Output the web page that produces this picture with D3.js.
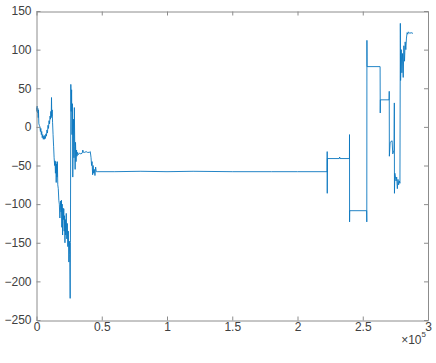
<!DOCTYPE html>
<html>
<head>
<meta charset="utf-8">
<script src="https://cdn.jsdelivr.net/npm/d3@7"></script>
<style>
  html, body { margin: 0; padding: 0; background: #fff; }
  svg { display: block; }
  text { font-family: "Liberation Sans", Arial, sans-serif; fill: #404040; }
</style>
</head>
<body>
<svg id="chart" width="436" height="363"></svg>
<script>
// Sample index of each vertex of the trace
const sampleIdx = [
  0, 300, 500, 800, 1000, 1300, 1500, 1800, 2200, 2600, 3000, 3300, 3700, 4000, 4400, 4800,
  5200, 5600, 6000, 6400, 6800, 7200, 7600, 8000, 8400, 8800, 9200, 9600, 10000, 10400, 10700,
  11000, 11300, 11500, 11700, 12000, 12300, 12700, 13100, 13500, 13900, 14200, 14500, 14800,
  15100, 15400, 15700, 16000, 16300, 16700, 17100, 17500, 17900, 18200, 18500, 18800, 19100,
  19400, 19700, 20000, 20300, 20600, 20900, 21200, 21500, 21800, 22100, 22400, 22800, 23200,
  23600, 24000, 24400, 24800, 25200, 25500, 25800, 26000, 26300, 26600, 26900, 27200, 27500,
  27800, 28100, 28400, 28700, 29000, 29300, 29600, 29900, 30300, 30700, 31000, 31500, 32000,
  33000, 34000, 35000, 35500, 36000, 37000, 38000, 39000, 40500, 41200, 41800, 42200, 42600,
  43000, 43400, 43800, 44300, 44800, 45300, 45800, 47000, 60000, 80000, 100000, 120000, 150000,
  180000, 200000, 222700,
  222750, 222800, 222900, 232000, 232300, 232600, 239800, 239850, 239900, 240000, 253000,
  253100, 253200, 253300, 263300, 263400, 263500, 270200, 270300, 270400, 271000, 272500,
  273000, 274000, 274200, 274300, 274600, 275500, 276000, 276500, 277000, 277500, 278000,
  278500, 278800, 279000, 279500, 280000, 280500, 281000, 281500, 282000, 282500, 283000,
  283500, 284000, 284500, 285000, 286000, 287000, 288500
];

// Signal value at each vertex
const signal = [
  25, 20, 27, 18, 24, 12, 22, 4, 2, 0, -6, -2, -10, -6, -14, -10,
  -16, -12, -16, -11, -15, -9, -12, -4, -8, 2, -2, 8, 4, 14, 10,
  20, 12, 38, 14, 22, 6, -10, -25, -40, -50, -44, -60, -45,
  -72, -48, -65, -45, -75, -80, -95, -100, -118, -108, -96, -110, -95,
  -130, -100, -140, -105, -120, -106, -135, -115, -150, -120, -140, -112, -145,
  -125, -155, -135, -175, -148, -165, -222, -150, 55, 20, 48, -10, 30,
  -65, -20, 10, -40, 25, -25, -55, -20, -45, -30, -38, -33, -36,
  -34, -35, -34, -30, -33, -33, -32, -33, -33, -32, -40, -50, -45,
  -62, -50, -60, -55, -63, -52, -58, -58, -58, -57.5, -58, -57.5, -58,
  -58, -58, -58,
  -32, -86, -41, -41, -39, -41, -41, -10, -123, -108.5, -108.5,
  -123, 112, 78, 78, 18, 35, 35, 46, -38, -20, -18,
  -35, -30, 31, -86, -60, -70, -65, -80, -68, -75, -70,
  -73, 134, 60, 100, 70, 95, 64, 105, 85, 110, 100,
  115, 122, 120, 123, 121, 122, 121
];

const xTicks = [0, 50000, 100000, 150000, 200000, 250000, 300000];
const xTickLabels = ["0", "0.5", "1", "1.5", "2", "2.5", "3"];
const yTicks = [-250, -200, -150, -100, -50, 0, 50, 100, 150];

const plot = { left: 36.5, right: 428, top: 11, bottom: 320 };

const svg = d3.select("#chart");

const x = d3.scaleLinear().domain([0, 300000]).range([plot.left, plot.right]);
const y = d3.scaleLinear().domain([-250, 150]).range([plot.bottom, plot.top]);

const axisColor = "#8c8c8c";
const tickLen = 4;

// Trace
const points = sampleIdx.map((s, i) => [s, signal[i]]);
const line = d3.line().x(d => x(d[0])).y(d => y(d[1]));
svg.append("path")
  .datum(points)
  .attr("fill", "none")
  .attr("stroke", "#0b77c0")
  .attr("stroke-width", 0.9)
  .attr("stroke-linejoin", "round")
  .attr("d", line);

// Axes: ticks point inward, box drawn on all four sides
const bottomAxis = d3.axisBottom(x).tickValues(xTicks)
  .tickSizeInner(-tickLen).tickSizeOuter(0).tickPadding(2)
  .tickFormat((d, i) => xTickLabels[i]);
const leftAxis = d3.axisLeft(y).tickValues(yTicks)
  .tickSizeInner(-tickLen).tickSizeOuter(0).tickPadding(5)
  .tickFormat(d3.format("d"));
const topAxis = d3.axisTop(x).tickValues(xTicks)
  .tickSizeInner(-tickLen).tickSizeOuter(0).tickFormat("");
const rightAxis = d3.axisRight(y).tickValues(yTicks)
  .tickSizeInner(-tickLen).tickSizeOuter(0).tickFormat("");

function styleAxis(g) {
  g.select(".domain").attr("stroke", axisColor);
  g.selectAll(".tick line").attr("stroke", axisColor);
  g.selectAll(".tick text")
    .attr("fill", "#404040")
    .style("font-family", "'Liberation Sans', Arial, sans-serif")
    .style("font-size", "12px");
}

svg.append("g").attr("transform", `translate(0,${plot.bottom + 0.5})`).call(bottomAxis).call(styleAxis);
svg.append("g").attr("transform", `translate(${plot.left},0)`).call(leftAxis).call(styleAxis);
svg.append("g").attr("transform", `translate(0,${plot.top + 0.5})`).call(topAxis).call(styleAxis);
svg.append("g").attr("transform", `translate(${plot.right},0)`).call(rightAxis).call(styleAxis);

// Exponent label for the x axis
const expo = svg.append("text")
  .attr("x", 426)
  .attr("y", 344)
  .attr("text-anchor", "end")
  .style("font-size", "12px");
expo.append("tspan").text("\u00d710");
expo.append("tspan").attr("dy", -7).style("font-size", "8px").text("5");
</script>
</body>
</html>
